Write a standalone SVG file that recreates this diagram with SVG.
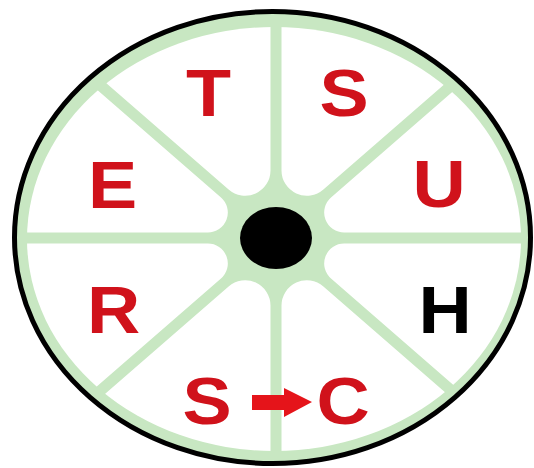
<svg xmlns="http://www.w3.org/2000/svg" width="534" height="468" viewBox="0 0 534 468">
  <style>
    .lbl { font-family: "Liberation Sans", Arial, sans-serif; font-weight: bold; font-size: 67px; text-anchor: middle; }
    .red { fill: #d0121b; }
    .blk { fill: #000000; }
    .sector { fill: #ffffff; }
  </style>
  <defs>
    <clipPath id="inner">
      <ellipse cx="274" cy="239" rx="247" ry="212"/>
    </clipPath>
  </defs>
  <rect width="534" height="468" fill="#ffffff"/>
  <g id="wheel">
    <ellipse cx="272.5" cy="237.5" rx="258" ry="226" fill="#c8e7c2" stroke="#000000" stroke-width="5"/>
    <g clip-path="url(#inner)">
      <path class="sector" d="M344.5,243.5 L596,243.5 L697.5,395.6 L521.1,443.8 L331.3,278.8 A20,20 0 0 1 344.5,243.5 Z"/>
      <path class="sector" d="M323.4,286.5 L513.9,452.1 L462.6,647.5 L281.5,558 L281.5,305.6 A25.3,25.3 0 0 1 323.4,286.5 Z"/>
      <path class="sector" d="M270.5,305.6 L270.5,558 L89.4,647.5 L38.1,452.1 L228.6,286.5 A25.3,25.3 0 0 1 270.5,305.6 Z"/>
      <path class="sector" d="M220.7,278.8 L30.9,443.8 L-145.5,395.6 L-44,243.5 L207.5,243.5 A20,20 0 0 1 220.7,278.8 Z"/>
      <path class="sector" d="M207.5,232.5 L-44,232.5 L-145.5,80.4 L30.9,32.2 L220.7,197.2 A20,20 0 0 1 207.5,232.5 Z"/>
      <path class="sector" d="M228.6,189.5 L38.1,23.9 L89.4,-171.5 L270.5,-82 L270.5,170.4 A25.3,25.3 0 0 1 228.6,189.5 Z"/>
      <path class="sector" d="M281.5,170.4 L281.5,-82 L462.6,-171.5 L513.9,23.9 L323.4,189.5 A25.3,25.3 0 0 1 281.5,170.4 Z"/>
      <path class="sector" d="M331.3,197.2 L521.1,32.2 L697.5,80.4 L596,232.5 L344.5,232.5 A20,20 0 0 1 331.3,197.2 Z"/>
    </g>
  </g>
  <g id="hub">
    <ellipse cx="276" cy="238" rx="36" ry="31" fill="#000000"/>
  </g>
  <g id="label-T"><text class="lbl red" transform="translate(208.5,116) scale(1.1,1)">T</text></g>
  <g id="label-S1"><text class="lbl red" transform="translate(344,116) scale(1.1,1)">S</text></g>
  <g id="label-E"><text class="lbl red" transform="translate(112.5,208) scale(1.1,1)">E</text></g>
  <g id="label-U"><text class="lbl red" transform="translate(439,207) scale(1.1,1)">U</text></g>
  <g id="label-R"><text class="lbl red" transform="translate(113.5,333) scale(1.1,1)">R</text></g>
  <g id="label-H"><text class="lbl blk" transform="translate(445,333) scale(1.1,1)">H</text></g>
  <g id="label-S2"><text class="lbl red" transform="translate(207,424) scale(1.1,1)">S</text></g>
  <g id="label-C"><text class="lbl red" transform="translate(343,424) scale(1.1,1)">C</text></g>
  <g id="connectors">
    <polygon points="252,395 284,395 284,388 312,402 284,417 284,410 252,410" fill="#e5141a"/>
  </g>
</svg>
